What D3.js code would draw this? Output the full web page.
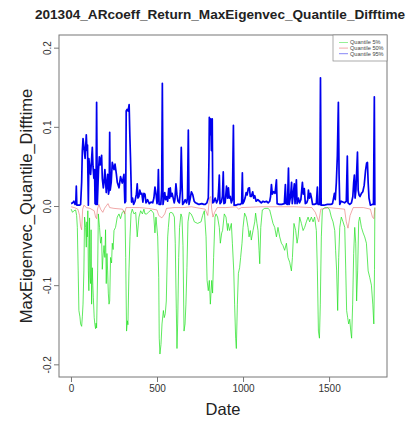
<!DOCTYPE html>
<meta charset="utf-8">
<style>
body { margin: 0; background: #fff; }
svg { font-family: "Liberation Sans", Arial, sans-serif; }
.axis path, .axis line { stroke: #777; }
.axis text { fill: #333; font-size: 10px; }
</style>
<svg width="406" height="423" class="top"></svg>
<script src="https://d3js.org/d3.v7.min.js"></script>
<script>

var title = "201304_ARcoeff_Return_MaxEigenvec_Quantile_Difftime";
var yLabel = "MaxEigenvec_Quantile_Difftime";
var xLabel = "Date";

var xTicks = [0, 500, 1000, 1500];
var yTicks = [-0.2, -0.1, 0.0, 0.1, 0.2];

var seriesNames = ["Quantile 5%", "Quantile 50%", "Quantile 95%"];

// [date, value]
var q05 = [[1,-0.004],[9,-0.008],[17,-0.006],[27,-0.005],[33,-0.012],[37,-0.027],[42,-0.082],[46,-0.132],[52,-0.14],[56,-0.149],[62,-0.152],[66,-0.14],[70,-0.124],[75,-0.082],[79,-0.014],[85,-0.027],[89,-0.052],[92,-0.02],[95,-0.039],[98,-0.006],[101,-0.082],[104,-0.107],[108,-0.015],[111,-0.09],[114,-0.098],[117,-0.03],[120,-0.124],[124,-0.078],[127,-0.1],[130,-0.116],[135,-0.141],[139,-0.15],[143,-0.155],[146,-0.148],[149,-0.154],[155,-0.082],[159,-0.01],[166,-0.027],[172,-0.047],[178,-0.039],[182,-0.08],[186,-0.065],[192,-0.05],[197,-0.065],[201,-0.03],[205,-0.098],[209,-0.06],[213,-0.082],[217,-0.11],[221,-0.124],[225,-0.12],[230,-0.065],[236,-0.072],[240,-0.047],[245,-0.055],[250,-0.031],[259,-0.027],[269,-0.014],[279,-0.01],[288,-0.016],[298,-0.008],[308,-0.006],[314,-0.01],[318,-0.065],[323,-0.158],[328,-0.145],[331,-0.15],[337,-0.082],[343,-0.039],[349,-0.01],[356,-0.004],[366,-0.01],[376,-0.008],[385,-0.039],[395,-0.014],[405,-0.006],[415,-0.01],[424,-0.004],[430,-0.01],[440,-0.01],[450,-0.008],[465,-0.005],[480,-0.009],[488,-0.034],[494,-0.014],[504,-0.039],[510,-0.09],[513,-0.167],[517,-0.187],[523,-0.175],[529,-0.149],[537,-0.132],[542,-0.141],[548,-0.136],[554,-0.12],[562,-0.039],[566,-0.027],[573,-0.009],[581,-0.008],[591,-0.009],[601,-0.014],[606,-0.047],[612,-0.129],[616,-0.18],[620,-0.149],[626,-0.065],[631,-0.027],[639,-0.01],[645,-0.014],[651,-0.05],[657,-0.158],[663,-0.149],[668,-0.124],[674,-0.078],[680,-0.02],[688,-0.008],[698,-0.01],[707,-0.014],[717,-0.02],[736,-0.022],[756,-0.02],[765,-0.012],[775,-0.006],[785,-0.039],[791,-0.094],[798,-0.107],[804,-0.094],[810,-0.124],[818,-0.094],[823,-0.11],[829,-0.065],[837,-0.014],[843,-0.01],[852,-0.014],[862,-0.027],[868,-0.047],[876,-0.034],[881,-0.031],[891,-0.01],[901,-0.014],[910,-0.031],[913,-0.022],[922,-0.031],[932,-0.022],[938,-0.047],[946,-0.082],[951,-0.124],[957,-0.167],[961,-0.18],[967,-0.124],[973,-0.085],[980,-0.078],[986,-0.065],[994,-0.047],[1000,-0.027],[1009,-0.009],[1019,-0.014],[1029,-0.027],[1035,-0.039],[1042,-0.031],[1048,-0.043],[1058,-0.031],[1068,-0.02],[1073,-0.009],[1081,-0.022],[1087,-0.031],[1093,-0.056],[1097,-0.073],[1103,-0.027],[1112,-0.005],[1126,-0.003],[1145,-0.003],[1155,-0.005],[1165,-0.014],[1174,-0.022],[1184,-0.027],[1194,-0.039],[1203,-0.027],[1213,-0.039],[1223,-0.047],[1232,-0.05],[1242,-0.056],[1252,-0.047],[1261,-0.065],[1271,-0.071],[1281,-0.082],[1287,-0.065],[1296,-0.022],[1306,-0.031],[1314,-0.047],[1320,-0.039],[1329,-0.014],[1339,-0.022],[1349,-0.031],[1358,-0.027],[1368,-0.02],[1378,-0.014],[1387,-0.02],[1397,-0.014],[1407,-0.02],[1416,-0.014],[1426,-0.031],[1432,-0.082],[1438,-0.158],[1444,-0.167],[1449,-0.124],[1455,-0.039],[1461,-0.005],[1474,-0.002],[1494,-0.002],[1503,-0.005],[1513,-0.014],[1523,-0.02],[1533,-0.031],[1538,-0.056],[1544,-0.082],[1550,-0.132],[1556,-0.065],[1562,-0.027],[1571,-0.014],[1581,-0.02],[1591,-0.027],[1597,-0.082],[1602,-0.132],[1608,-0.141],[1614,-0.149],[1620,-0.143],[1626,-0.158],[1631,-0.167],[1637,-0.124],[1643,-0.06],[1649,-0.027],[1655,-0.047],[1660,-0.12],[1666,-0.082],[1672,-0.02],[1678,-0.014],[1688,-0.027],[1698,-0.034],[1707,-0.039],[1717,-0.047],[1727,-0.082],[1736,-0.09],[1746,-0.1],[1754,-0.124],[1760,-0.149],[1764,-0.08],[1766,-0.002]];

var q50 = [[1,-0.001],[20,-0.002],[40,-0.004],[50,-0.012],[56,-0.026],[62,-0.03],[68,-0.004],[75,0.001],[90,-0.002],[110,-0.003],[135,-0.006],[143,-0.014],[149,-0.016],[154,-0.004],[162,0.002],[172,-0.004],[185,-0.008],[195,-0.003],[208,0.001],[215,0.003],[225,-0.002],[250,-0.003],[300,-0.004],[312,-0.01],[320,-0.002],[350,-0.002],[400,-0.002],[450,-0.003],[500,-0.005],[510,-0.012],[528,-0.015],[545,-0.01],[555,-0.003],[600,-0.002],[650,-0.002],[700,-0.001],[780,-0.004],[795,-0.012],[805,0.01],[812,0.012],[818,-0.004],[825,-0.014],[835,-0.008],[850,-0.002],[900,-0.002],[960,-0.001],[975,-0.004],[990,-0.002],[1100,-0.001],[1200,-0.001],[1300,-0.001],[1400,-0.002],[1420,-0.008],[1440,-0.02],[1452,-0.004],[1500,-0.002],[1590,-0.004],[1600,-0.02],[1610,-0.028],[1622,-0.012],[1640,-0.002],[1700,-0.002],[1740,-0.004],[1752,-0.014],[1760,-0.016],[1766,-0.002]];

var q95 = [[1,0.003],[10,0.004],[17,0.006],[24,0.002],[28,0.004],[31,0.025],[34,0.001],[50,0.001],[56,0.002],[62,0.03],[66,0.07],[70,0.085],[75,0.075],[82,0.06],[89,0.09],[93,0.07],[96,0.077],[99,0.03],[101,0.001],[104,0.06],[109,0.048],[114,0.04],[120,0.06],[124,0.074],[128,0.05],[133,0.035],[137,0.046],[140,0.003],[145,0.002],[149,0.131],[153,0.002],[160,0.045],[165,0.062],[170,0.052],[178,0.064],[182,0.035],[188,0.023],[192,0.03],[197,0.046],[205,0.017],[213,0.04],[218,0.015],[222,0.02],[225,0.093],[228,0.02],[234,0.03],[240,0.055],[250,0.046],[256,0.053],[264,0.04],[269,0.03],[279,0.023],[288,0.037],[298,0.029],[308,0.04],[313,0.004],[318,0.006],[321,0.12],[326,0.122],[332,0.12],[338,0.128],[342,0.09],[346,0.06],[352,0.005],[358,0.01],[364,0.002],[372,0.006],[380,0.015],[385,0.028],[389,0.01],[395,0.012],[400,0.02],[406,0.015],[412,0.016],[418,0.005],[424,0.016],[430,0.015],[436,0.004],[445,0.008],[455,0.003],[465,0.005],[475,0.004],[482,0.01],[488,0.024],[494,0.016],[500,0.003],[504,0.01],[508,0.046],[512,0.002],[522,0.002],[527,0.02],[531,0.155],[535,0.002],[545,0.017],[550,0.008],[556,0.012],[562,0.006],[568,0.022],[573,0.01],[577,0.023],[582,0.012],[588,0.016],[594,0.01],[600,0.004],[604,0.008],[610,0.028],[616,0.014],[622,0.006],[630,0.004],[636,0.02],[641,0.074],[645,0.033],[649,0.002],[656,0.004],[664,0.008],[672,0.004],[677,0.01],[682,0.096],[686,0.002],[692,0.008],[700,0.018],[708,0.014],[716,0.006],[724,0.004],[734,0.003],[744,0.002],[760,0.003],[772,0.002],[780,0.002],[790,0.004],[798,0.01],[802,0.06],[804,0.112],[808,0.09],[812,0.11],[816,0.07],[821,0.11],[824,0.004],[830,0.005],[838,0.01],[846,0.004],[854,0.008],[858,0.02],[862,0.039],[866,0.003],[874,0.005],[880,0.012],[885,0.043],[889,0.003],[896,0.004],[904,0.025],[910,0.01],[915,0.023],[920,0.01],[926,0.012],[932,0.004],[938,0.008],[944,0.102],[948,0.001],[958,0.001],[970,0.002],[985,0.002],[992,0.004],[996,0.042],[999,0.003],[1006,0.006],[1012,0.01],[1018,0.017],[1024,0.014],[1030,0.022],[1037,0.023],[1042,0.012],[1048,0.012],[1056,0.018],[1062,0.01],[1068,0.013],[1076,0.006],[1086,0.008],[1096,0.006],[1106,0.004],[1116,0.006],[1126,0.005],[1136,0.006],[1146,0.004],[1155,0.006],[1160,0.012],[1165,0.027],[1170,0.015],[1178,0.018],[1186,0.016],[1194,0.033],[1198,0.003],[1210,0.002],[1225,0.002],[1240,0.003],[1246,0.027],[1250,0.003],[1258,0.002],[1264,0.048],[1268,0.002],[1276,0.012],[1282,0.03],[1286,0.003],[1292,0.015],[1298,0.028],[1302,0.003],[1310,0.033],[1314,0.003],[1322,0.01],[1328,0.004],[1336,0.008],[1345,0.03],[1350,0.015],[1356,0.022],[1362,0.003],[1370,0.004],[1376,0.008],[1380,0.02],[1386,0.01],[1392,0.016],[1398,0.01],[1404,0.002],[1414,0.002],[1426,0.003],[1432,0.024],[1436,0.002],[1446,0.002],[1450,0.162],[1454,0.001],[1470,0.001],[1490,0.002],[1510,0.002],[1520,0.003],[1526,0.01],[1531,0.016],[1536,0.008],[1542,0.029],[1548,0.063],[1554,0.131],[1558,0.04],[1562,0.002],[1570,0.006],[1580,0.005],[1590,0.004],[1600,0.006],[1606,0.063],[1610,0.004],[1620,0.002],[1630,0.004],[1638,0.012],[1643,0.03],[1647,0.039],[1651,0.01],[1656,0.02],[1665,0.068],[1669,0.02],[1674,0.014],[1680,0.012],[1688,0.016],[1696,0.018],[1704,0.026],[1712,0.045],[1718,0.054],[1723,0.055],[1727,0.03],[1732,0.01],[1740,0.001],[1750,0.002],[1758,0.002],[1763,0.138],[1766,0.001]];

var colors = ["#22e022", "#e05050", "#0000ee"];
var widths = [0.8, 0.7, 1.7];
var opac = [0.9, 0.7, 1];

var svg = d3.select(".top"),
    margin = {top: 35, right: 19, bottom: 46, left: 59},
    width = +svg.attr("width") - margin.left - margin.right,
    height = +svg.attr("height") - margin.top - margin.bottom,
    g = svg.append("g").attr("transform", "translate(" + margin.left + "," + margin.top + ")");

// R style 4% padding on both ranges
var x = d3.scaleLinear().domain([-69.6, 1836.6]).range([0, width]);
var y = d3.scaleLinear().domain([-0.216, 0.216]).range([height, 0]);

var line = d3.line()
    .x(function(d) { return x(d[0]); })
    .y(function(d) { return y(d[1]); });

g.selectAll(".serie")
  .data([q05, q50, q95])
  .enter().append("path")
    .attr("class", "serie")
    .attr("fill", "none")
    .attr("stroke", function(d, i) { return colors[i]; })
    .attr("stroke-width", function(d, i) { return widths[i]; })
    .attr("stroke-opacity", function(d, i) { return opac[i]; })
    .attr("stroke-linejoin", "round")
    .attr("d", line);

g.append("g")
    .attr("class", "axis axis--x")
    .attr("transform", "translate(0," + height + ")")
    .call(d3.axisBottom(x).tickValues(xTicks).tickSize(5).tickPadding(3).tickFormat(d3.format("d")))
    .call(function(a) { a.select(".domain").remove(); });

g.append("g")
    .attr("class", "axis axis--y")
    .call(d3.axisLeft(y).tickValues(yTicks).tickSize(5).tickFormat(function(d) { return d.toFixed(1); }))
    .call(function(a) { a.select(".domain").remove(); })
  .selectAll("text")
    .attr("x", null).attr("dy", null)
    .attr("text-anchor", "middle")
    .attr("transform", "translate(-8,0) rotate(-90)");

g.append("rect")
    .attr("width", width)
    .attr("height", height)
    .attr("fill", "none")
    .attr("stroke", "#777");

// legend, top right corner
var legend = g.append("g")
    .attr("transform", "translate(" + (width - 54) + ",0)");

legend.append("rect")
    .attr("width", 54)
    .attr("height", 26)
    .attr("fill", "#fff")
    .attr("stroke", "#888")
    .attr("stroke-width", 0.7);

var item = legend.selectAll(".legend")
  .data(seriesNames)
  .enter().append("g")
    .attr("class", "legend")
    .attr("transform", function(d, i) { return "translate(0," + (7.5 + i * 5.6) + ")"; });

item.append("line")
    .attr("x1", 6).attr("x2", 15)
    .attr("stroke", function(d, i) { return colors[i]; })
    .attr("stroke-opacity", 0.6)
    .attr("stroke-width", 0.8);

item.append("text")
    .attr("x", 17)
    .attr("dy", "0.35em")
    .style("font-size", "5.6px")
    .attr("fill", "#444")
    .text(function(d) { return d; });

svg.append("text")
    .attr("x", 220)
    .attr("y", 19)
    .attr("text-anchor", "middle")
    .style("font-size", "13.6px")
    .style("font-weight", "bold")
    .attr("fill", "#222")
    .text(title);

svg.append("text")
    .attr("transform", "translate(32," + (margin.top + height / 2) + ") rotate(-90)")
    .attr("text-anchor", "middle")
    .style("font-size", "16.5px")
    .attr("fill", "#222")
    .text(yLabel);

svg.append("text")
    .attr("x", margin.left + width / 2)
    .attr("y", 415)
    .attr("text-anchor", "middle")
    .style("font-size", "16.5px")
    .attr("fill", "#222")
    .text(xLabel);

</script>
